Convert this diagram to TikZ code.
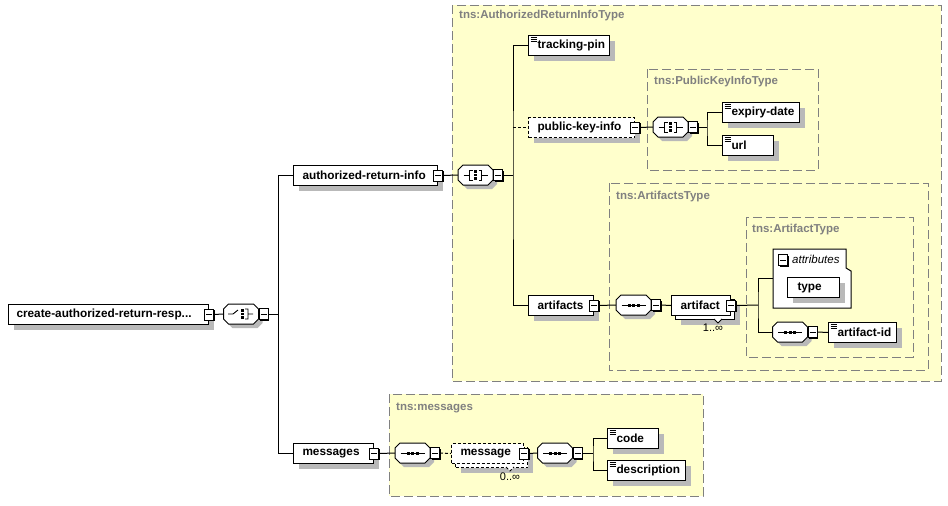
\documentclass[tikz,border=0pt]{standalone}
\usepackage{fontspec}
\setmainfont{Liberation Sans}
\usetikzlibrary{shadows,calc}
\definecolor{typefill}{RGB}{255,255,204}
\definecolor{typeline}{RGB}{128,128,128}
\definecolor{shadowgray}{RGB}{185,185,185}
\tikzset{
  typebox/.style={draw=typeline, fill=typefill, line width=0.9pt, dash pattern=on 9pt off 4pt},
  typelabel/.style={text=typeline, font=\fontsize{11.5}{13}\selectfont\bfseries, anchor=west, inner sep=0pt},
  elemns/.style={draw=black, fill=white, line width=1pt, inner ysep=0pt, inner xsep=9pt, minimum height=20pt, anchor=north west,
    align=left, font=\fontsize{11.8}{14}\selectfont\bfseries,
    execute at begin node={\exhyphenpenalty=10000\hyphenpenalty=10000\hbadness=10000\hfuzz=100pt}},
  elem/.style={elemns, drop shadow={shadow xshift=5pt, shadow yshift=-5pt, fill=shadowgray, opacity=1}},
  optdash/.style={dash pattern=on 3pt off 2pt},
  simple/.style={path picture={\foreach \dy in {2,4,6} \draw[line width=0.7pt] ([xshift=2pt,yshift=-\dy pt]path picture bounding box.north west) -- ++(6pt,0pt);}},
  minusbox/.style={draw=black, fill=white, line width=0.8pt, minimum width=9pt, minimum height=11pt, inner sep=0pt,
    path picture={\draw[line width=0.8pt] ([xshift=1.5pt]path picture bounding box.west) -- ([xshift=-1.5pt]path picture bounding box.east);},
    drop shadow={shadow xshift=1.2pt, shadow yshift=-1.2pt, fill=black, opacity=1}},
  compbox/.style={draw=none, minimum width=35pt, minimum height=20pt, inner sep=0pt},
  conn/.style={draw=black, line width=1pt},
  occ/.style={font=\fontsize{11}{13}\selectfont, inner sep=0pt},
}
\newcommand\symseq{\draw[line width=0.9pt] (-12,0) -- (12,0); \foreach \dx in {-4.5,0,4.5} \fill (\dx-1.5,-1.5) rectangle (\dx+1.5,1.5);}
\newcommand\symall{\draw[line width=0.9pt] (-12,0) -- (-6,0) (-3,-5) -- (-6,-5) -- (-6,5) -- (-3,5) (3,-5) -- (6,-5) -- (6,5) -- (3,5) (6,0) -- (12,0); \foreach \dy in {-3.5,0,3.5} \fill (-1.5,\dy-1.2) rectangle (1.5,\dy+1.2);}
\newcommand\symchoice{\draw[line width=0.9pt] (-13,0) -- (-8,0) -- (-3,-4) (4,-5) -- (7,-5) -- (7,5) -- (4,5) (7,0) -- (12,0); \foreach \dy in {-3.5,0,3.5} \fill (0,\dy-1.2) rectangle (2.5,\dy+1.2);}
\newcommand\xsdcomp[4]{%
  \node[compbox] (#1) at (#2,#3) {};
  \begin{scope}[shift={(#1.center)}]
    \fill[shadowgray] (-8.5,-6) -- (16.5,-6) -- (21.5,-1) -- (21.5,9) -- (16.5,14) -- (-8.5,14) -- (-13.5,9) -- (-13.5,-1) -- cycle;
    \draw[fill=white, line width=1pt] (-12.5,-10) -- (12.5,-10) -- (17.5,-5) -- (17.5,5) -- (12.5,10) -- (-12.5,10) -- (-17.5,5) -- (-17.5,-5) -- cycle;
    \csname sym#4\endcsname
  \end{scope}
  \node[minusbox, anchor=west] (#1m) at (#1.east) {};
}
\begin{document}
\begin{tikzpicture}[x=1pt,y=-1pt]
\useasboundingbox (0,0) rectangle (948,506);
\fill[white] (0,0) rectangle (948,506);

% type boxes
\draw[typebox] (452,5) rectangle (941,381);
\node[typelabel] (t1) at (459,16) {tns:AuthorizedReturnInfoType};
\draw[typebox] (647,69) rectangle (818,170);
\node[typelabel] (t2) at (654,82) {tns:PublicKeyInfoType};
\draw[typebox] (609,183) rectangle (928,370);
\node[typelabel] (t3) at (616,197) {tns:ArtifactsType};
\draw[typebox] (746,217) rectangle (913,357);
\node[typelabel] (t4) at (752,230) {tns:ArtifactType};
\draw[typebox] (389,394) rectangle (703,496);
\node[typelabel] (t5) at (396,408) {tns:messages};

% root
\node[elem, inner xsep=8pt, text width=184pt] (root) at (8,304) {create-authorized-return-resp...};
\node[minusbox] (rootm) at (root.east) {};
\xsdcomp{ch}{241}{314}{choice}
\draw[conn] (rootm.east) -- (ch.west);
\coordinate (b1) at (278,314);
\draw[conn] (chm.east) -- (b1);

% authorized-return-info
\node[elem, text width=126pt] (ari) at (293,165) {authorized-return-info};
\node[minusbox] (arim) at (ari.east) {};
\xsdcomp{allA}{475.5}{175}{all}
\draw[conn] (arim.east) -- (allA.west);
\coordinate (b2) at (513,175);
\draw[conn] (allAm.east) -- (b2);

\node[elem, simple, text width=63pt] (tp) at (528,35) {tracking-pin};
\node[elem, optdash, text width=88pt] (pki) at (528,117) {public-key-info};
\node[minusbox] (pkim) at (pki.east) {};
\node[elem, text width=47pt] (arts) at (528,295) {artifacts};
\node[minusbox] (artsm) at (arts.east) {};
\draw[conn] (tp.west) -| (b2) |- (arts.west);
\draw[conn, optdash] (pki.west -| b2) -- (pki.west);

% public key info
\xsdcomp{allB}{670.5}{127}{all}
\draw[conn] (pkim.east) -- (allB.west);
\coordinate (b3) at (707,127);
\draw[conn] (allBm.east) -- (b3);
\node[elem, simple, text width=59pt] (ed) at (722,102) {expiry-date};
\node[elem, simple, text width=33pt] (url) at (722,135) {url};
\draw[conn] (ed.west) -| (b3) |- (url.west);

% artifacts
\xsdcomp{seqA}{633.5}{305}{seq}
\draw[conn] (artsm.east) -- (seqA.west);
\node[elem, text width=41pt] (artb) at (675,299) {};
\node[elemns, text width=41pt] (art) at (671,295) {artifact};
\node[minusbox] (artm) at (art.east) {};
\draw[fill=white, line width=0.8pt] (714,319) -- (718,323) -- (722,319);
\node[occ] (occA) at (713,328) {1..∞};
\draw[conn] (seqAm.east) -- (art.west);
\coordinate (b4) at (758,305);
\draw[conn] (artm.east) -- (b4);

% attributes
\node[draw=none, minimum width=78pt, minimum height=59pt, inner sep=0pt, anchor=north west] (attr) at (773,249) {};
\draw[fill=white, line width=1pt] (773,249) -- (846,249) -- (846,268) -- (851,271) -- (851,308) -- (773,308) -- cycle;
\node[minusbox] (attrm) at (783,260) {};
\node[font=\fontsize{11.5}{14}\selectfont\itshape, anchor=west, inner sep=0pt] (attrl) at (792,259) {attributes};
\node[elem, inner xsep=10pt, text width=32pt] (type) at (787,277) {type};
\xsdcomp{seqB}{790}{332}{seq}
\draw[conn] (attr.west) -| (b4) |- (seqB.west);
\node[elem, simple, text width=50pt] (aid) at (828,322) {artifact-id};
\draw[conn] (seqBm.east) -- (aid.west);

% messages
\node[elem, text width=62pt] (msgs) at (293,443) {messages};
\node[minusbox] (msgsm) at (msgs.east) {};
\draw[conn] (b1) |- (ari.west);
\draw[conn] (b1) |- (msgs.west);
\xsdcomp{seqC}{412.5}{453}{seq}
\draw[conn] (msgsm.east) -- (seqC.west);
\node[elem, optdash, text width=54pt] (msgb) at (455,447) {};
\node[elemns, optdash, text width=54pt] (msg) at (451,443) {message};
\node[minusbox] (msgm) at (msg.east) {};
\draw[fill=white, line width=0.8pt, optdash] (506,467) -- (510,471) -- (514,467);
\node[occ] (occB) at (510,477) {0..∞};
\draw[conn, optdash] (seqCm.east) -- (msg.west);
\xsdcomp{seqD}{555}{453}{seq}
\draw[conn] (msgm.east) -- (seqD.west);
\coordinate (b5) at (593,453);
\draw[conn] (seqDm.east) -- (b5);
\node[elem, simple, text width=33pt] (code) at (607,428) {code};
\node[elem, simple, text width=60pt] (desc) at (607,460) {description};
\draw[conn] (code.west) -| (b5) |- (desc.west);
\end{tikzpicture}
\end{document}
